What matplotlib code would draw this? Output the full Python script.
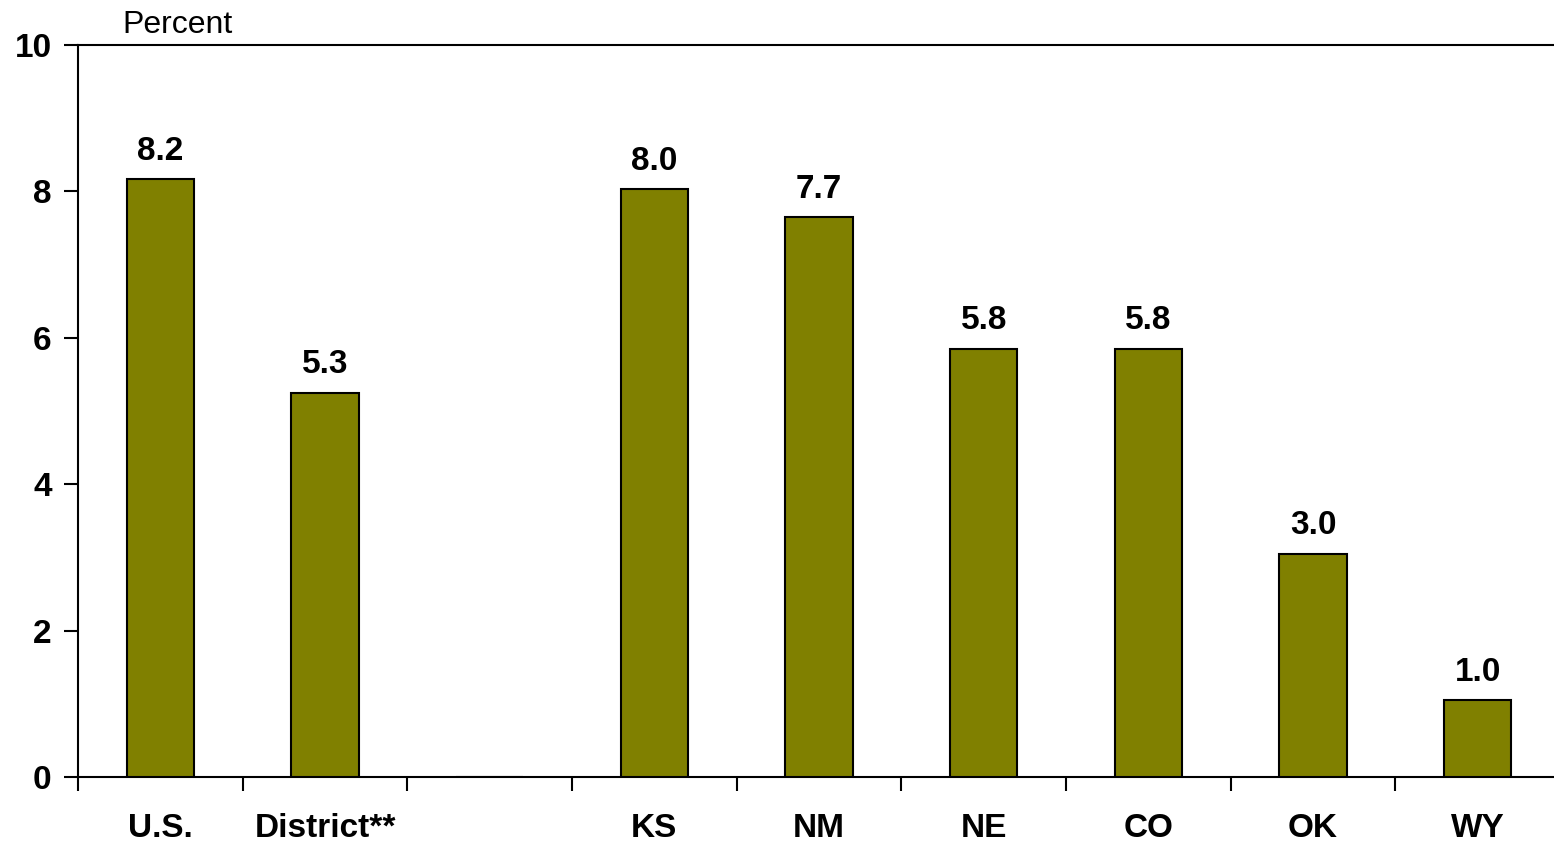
import matplotlib.pyplot as plt
import numpy as np

plt.rcParams['font.family'] = ['Liberation Sans', 'DejaVu Sans']

# data (blank slot between District and states)
categories = ['U.S.', 'District**', '', 'KS', 'NM', 'NE', 'CO', 'OK', 'WY']
values = [8.17, 5.25, np.nan, 8.03, 7.65, 5.85, 5.85, 3.05, 1.05]
labels = ['8.2', '5.3', '', '8.0', '7.7', '5.8', '5.8', '3.0', '1.0']

fig = plt.figure(figsize=(15.54, 8.41), dpi=100)
ax = fig.add_axes([0.0502, 0.0761, 0.9537, 0.8704])

x = np.arange(len(categories))
bars = ax.bar(x, np.nan_to_num(values), width=0.41, color='#808000',
              edgecolor='black', linewidth=1.5, zorder=3)

for xi, v, lab in zip(x, values, labels):
    if lab:
        ax.annotate(lab, (xi, v), xytext=(0, 14), textcoords='offset points',
                    ha='center', va='baseline', fontsize=24, fontweight='bold')

ax.set_xlim(-0.5, len(categories) - 0.5)
ax.set_ylim(0, 10)
ax.set_yticks([0, 2, 4, 6, 8, 10])
ax.tick_params(axis='y', length=10, width=1.5, direction='out', pad=9,
               labelsize=24)
for t in ax.get_yticklabels():
    t.set_fontweight('bold')

ax.set_xticks(x)
ax.set_xticklabels(categories, fontsize=24, fontweight='bold')
ax.tick_params(axis='x', which='major', length=0, pad=26)
ax.set_xticks(np.arange(-0.5, len(categories) + 0.5, 1), minor=True)
ax.tick_params(axis='x', which='minor', length=10, width=1.5, direction='out')

for side in ['left', 'bottom', 'top']:
    ax.spines[side].set_linewidth(1.5)
ax.spines['right'].set_visible(False)

fig.text(0.1145, 0.970, 'Percent', ha='center', va='center', fontsize=23)

fig.savefig('out.png', dpi=100)
